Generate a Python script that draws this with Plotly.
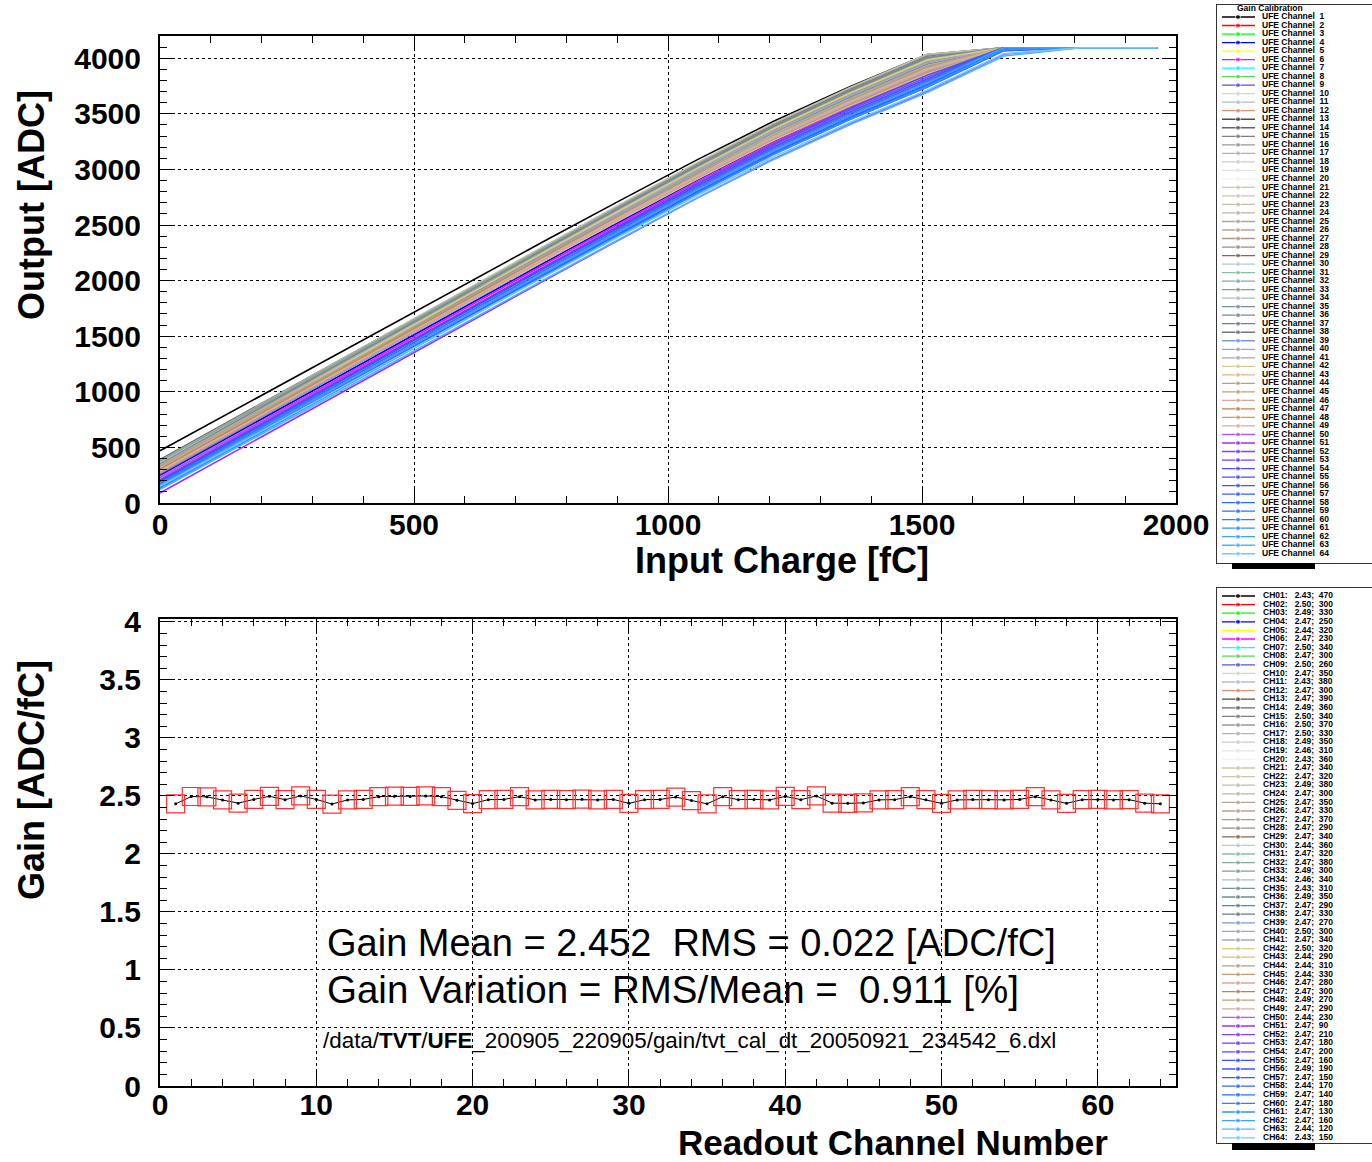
import plotly.graph_objects as go

W, H = 1372, 1162

# ---------------- data ----------------
charges = [0, 151, 302, 453, 604, 755, 906, 1057, 1208, 1359, 1510, 1661, 1812, 1963]
# common non-linearity of the response at each charge step [ADC]
nonlinearity = [0, 10, 20, 30, 40, 45, 48, 45, 25, -30, -110, -150, -150, -150]
channels = list(range(1, 65))
adc_max = 4095

pedestals = [470, 300, 330, 250, 320, 230, 340, 300, 260, 350,
             380, 300, 390, 360, 340, 370, 330, 350, 310, 360,
             340, 320, 380, 300, 350, 330, 370, 290, 340, 360,
             320, 380, 300, 340, 310, 350, 290, 330, 270, 300,
             340, 320, 290, 310, 330, 280, 300, 270, 290, 230,
             90, 210, 180, 200, 160, 190, 150, 170, 140, 180,
             130, 160, 120, 150]

gains = [2.432, 2.495, 2.492, 2.466, 2.438, 2.470, 2.497, 2.468, 2.500, 2.470,
         2.430, 2.466, 2.470, 2.494, 2.498, 2.496, 2.500, 2.494, 2.462, 2.434,
         2.468, 2.470, 2.494, 2.466, 2.470, 2.468, 2.472, 2.466, 2.470, 2.436,
         2.468, 2.470, 2.490, 2.460, 2.432, 2.494, 2.468, 2.470, 2.466, 2.496,
         2.468, 2.500, 2.438, 2.436, 2.440, 2.466, 2.468, 2.494, 2.468, 2.436,
         2.466, 2.470, 2.468, 2.466, 2.470, 2.494, 2.466, 2.436, 2.468, 2.470,
         2.466, 2.468, 2.438, 2.432]

colors = ["#000000", "#ff0000", "#00ff00", "#0000ff", "#ffff00", "#ff00ff", "#00ffff", "#59d454", "#5954d9", "#c8dcc8",
          "#b4bcc8", "#d89070", "#4c4c4c", "#666666", "#7f7f7f", "#999999", "#b2b2b2", "#cccccc", "#e5e5e5", "#f2f2f2",
          "#ccc6aa", "#ccc6aa", "#c1bfa8", "#bab5a3", "#b2a596", "#b7a39b", "#ad998c", "#9b8e82", "#876656", "#afcec6",
          "#84c1a3", "#89a8a0", "#829e8c", "#adbcc6", "#7a8e99", "#758991", "#688296", "#6d7a84", "#7c99d1", "#a0a3c1",
          "#aaa5bf", "#d3ce87", "#ddba87", "#bc9e82", "#c69e6d", "#d8a8a0", "#bf7f59", "#bf9c7c", "#ccb2a5", "#b060e0",
          "#9933ff", "#8040ff", "#6a3cff", "#5548ff", "#4450ff", "#3a58ff", "#3060ff", "#2a68ff", "#2870ff", "#2a80ff",
          "#3090ff", "#40a0ff", "#55b0ff", "#70c8ff"]

x_ticks_top = [0, 500, 1000, 1500, 2000]
y_ticks_top = [0, 500, 1000, 1500, 2000, 2500, 3000, 3500, 4000]
x_ticks_bot = [0, 10, 20, 30, 40, 50, 60]
y_ticks_bot = [0, 0.5, 1, 1.5, 2, 2.5, 3, 3.5, 4]

gain_mean_text = "Gain Mean = 2.452  RMS = 0.022 [ADC/fC]"
gain_var_text = "Gain Variation = RMS/Mean =  0.911 [%]"
file_text = "/data/<b>TVT</b>/<b>UFE</b>_200905_220905/gain/tvt_cal_dt_20050921_234542_6.dxl"

FONT = "Liberation Sans, Arial, Helvetica, sans-serif"


def fx(p):
    return p / W


def fy(p):
    return 1 - p / H


fig = go.Figure()

# ---------------- top: ADC vs charge ----------------
for i, ch in enumerate(channels):
    out = [min(pedestals[i] + gains[i] * q + d, adc_max) for q, d in zip(charges, nonlinearity)]
    fig.add_trace(go.Scatter(
        x=charges, y=out, mode="lines", xaxis="x", yaxis="y",
        line=dict(color=colors[i], width=1.6),
        showlegend=False, hoverinfo="skip"))

# ---------------- bottom: gain vs channel ----------------
fig.add_trace(go.Scatter(
    x=channels, y=gains, mode="lines+markers", xaxis="x2", yaxis="y2",
    line=dict(color="black", width=1), marker=dict(size=3, color="black"),
    showlegend=False, hoverinfo="skip"))
fig.add_trace(go.Scatter(
    x=channels, y=gains, mode="markers", xaxis="x2", yaxis="y2",
    marker=dict(symbol="square-open", size=18, color="#ff3030", line=dict(width=1.2)),
    showlegend=False, hoverinfo="skip"))

# ---------------- legends (drawn on pixel-scaled helper axes) ----------------
top_entry_y = [17 + 8.52 * i for i in range(64)]
bot_entry_y = [596 + 8.6 * i for i in range(64)]
for i, ch in enumerate(channels):
    for ax, yy in (("3", top_entry_y[i]), ("4", bot_entry_y[i])):
        fig.add_trace(go.Scatter(
            x=[5, 21, 38], y=[yy, yy, yy], mode="lines+markers",
            xaxis="x" + ax, yaxis="y" + ax,
            line=dict(color=colors[i], width=1.3),
            marker=dict(size=[0, 5, 0], color=colors[i]),
            showlegend=False, hoverinfo="skip"))

LEG_FONT = dict(size=8.5, color="black", family=FONT)
fig.add_trace(go.Scatter(
    x=[45] * 64, y=top_entry_y, mode="text", xaxis="x3", yaxis="y3",
    text=[f"<b>UFE Channel  {ch}</b>" for ch in channels], textposition="middle right",
    textfont=LEG_FONT, showlegend=False, hoverinfo="skip"))
fig.add_trace(go.Scatter(
    x=[20], y=[9], mode="text", xaxis="x3", yaxis="y3",
    text=["<b>Gain Calibration</b>"], textposition="middle right",
    textfont=LEG_FONT, showlegend=False, hoverinfo="skip"))
fig.add_trace(go.Scatter(
    x=[46] * 64, y=bot_entry_y, mode="text", xaxis="x4", yaxis="y4",
    text=[f"<b>CH{ch:02d}:   {g:.2f};  {p}</b>" for ch, g, p in zip(channels, gains, pedestals)],
    textposition="middle right",
    textfont=LEG_FONT, showlegend=False, hoverinfo="skip"))

tickfont = dict(size=30, color="black", family=FONT, weight="bold")


def main_axis(**kw):
    d = dict(showline=True, linecolor="black", linewidth=2, mirror="ticks",
             ticks="inside", ticklen=14, tickwidth=1, tickcolor="black",
             showgrid=True, gridcolor="black", gridwidth=1, griddash="dot",
             zeroline=False, tickfont=tickfont, tickmode="array")
    d.update(kw)
    return d


legend_axis = dict(showline=True, linecolor="#333333", linewidth=1, mirror=True, showgrid=False,
                   zeroline=False, showticklabels=False, ticks="")

fig.update_layout(
    autosize=True, margin=dict(l=0, r=0, t=0, b=0, autoexpand=False),
    paper_bgcolor="white", plot_bgcolor="white",
    xaxis=main_axis(domain=[fx(160), fx(1176)], range=[0, 2000], anchor="y",
                    tickvals=x_ticks_top, ticklabelstandoff=-6,
                    minor=dict(dtick=100, tick0=0, ticklen=7, ticks="inside", tickcolor="black", showgrid=False)),
    yaxis=main_axis(domain=[fy(503), fy(36)], range=[0, 4200], anchor="x",
                    tickvals=y_ticks_top, ticklabelstandoff=11,
                    minor=dict(dtick=100, tick0=0, ticklen=7, ticks="inside", tickcolor="black", showgrid=False)),
    xaxis2=main_axis(domain=[fx(160), fx(1176)], range=[0, 65], anchor="y2",
                     tickvals=x_ticks_bot, ticklabelstandoff=-9,
                     minor=dict(dtick=2, tick0=0, ticklen=7, ticks="inside", tickcolor="black", showgrid=False)),
    yaxis2=main_axis(domain=[fy(1086), fy(619)], range=[0, 4.025], anchor="x2",
                     tickvals=y_ticks_bot, ticktext=[f"{v:g}" for v in y_ticks_bot], ticklabelstandoff=11,
                     minor=dict(dtick=0.1, tick0=0, ticklen=7, ticks="inside", tickcolor="black", showgrid=False)),
    xaxis3=dict(domain=[fx(1217), 1.0], range=[0, 155], anchor="y3", **legend_axis),
    yaxis3=dict(domain=[fy(563), fy(5)], range=[563, 5], anchor="x3", **legend_axis),
    xaxis4=dict(domain=[fx(1217), 1.0], range=[0, 155], anchor="y4", **legend_axis),
    yaxis4=dict(domain=[fy(1143), fy(588)], range=[1143, 588], anchor="x4", **legend_axis),
)

# legend shadows
for y0, y1 in ((563, 569), (1143, 1150)):
    fig.add_shape(type="rect", xref="paper", yref="paper",
                  x0=fx(1232), x1=fx(1315), y0=fy(y1), y1=fy(y0),
                  fillcolor="black", line=dict(width=0))

title_font = dict(size=36, color="black", family=FONT, weight="bold")
ann = [
    dict(text="Output [ADC]", x=fx(31), y=fy(205), textangle=-90, font=title_font),
    dict(text="Input Charge [fC]", x=fx(782), y=fy(560), font=title_font),
    dict(text="Gain [ADC/fC]", x=fx(31), y=fy(780), textangle=-90, font=title_font),
    dict(text="Readout Channel Number", x=fx(893), y=fy(1142), font=dict(size=35, color="black", family=FONT, weight="bold")),
    dict(text=gain_mean_text, x=fx(325), y=fy(943), xanchor="left",
         font=dict(size=38, color="black", family=FONT)),
    dict(text=gain_var_text, x=fx(325), y=fy(989), xanchor="left",
         font=dict(size=38.5, color="black", family=FONT)),
    dict(text=file_text, x=fx(321), y=fy(1040), xanchor="left",
         font=dict(size=22.4, color="black", family=FONT)),
]
for a in ann:
    base = dict(xref="paper", yref="paper", showarrow=False, yanchor="middle")
    if "xanchor" not in a:
        base["xanchor"] = "center"
    base.update(a)
    fig.add_annotation(**base)

page_css = ("var s=document.createElement('style');"
            "s.textContent='html,body{margin:0 !important;padding:0 !important;overflow:hidden !important;}';"
            "document.head.appendChild(s);window.dispatchEvent(new Event('resize'));")
fig.write_html("out.html", default_width="100vw", default_height="100vh", post_script=page_css)
